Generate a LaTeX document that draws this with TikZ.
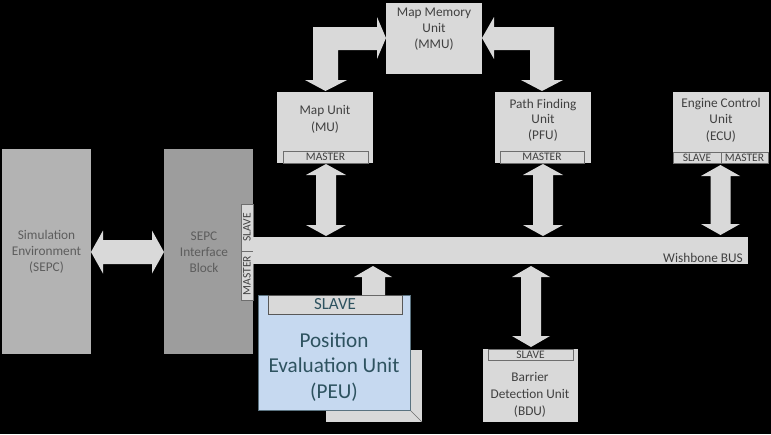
\documentclass[tikz,border=0pt]{standalone}
\usepackage{fontspec}
\setmainfont{Carlito}
\definecolor{boxgray}{HTML}{D9D9D9}
\definecolor{simgray}{HTML}{B3B3B3}
\definecolor{sepcgray}{HTML}{9D9D9D}
\definecolor{txtgray}{HTML}{404040}
\definecolor{stripline}{HTML}{6E6E6E}
\definecolor{peufill}{HTML}{C6D9F0}
\definecolor{peuline}{HTML}{5B7380}
\definecolor{peutext}{HTML}{2E5360}
\begin{document}
\begin{tikzpicture}[x=1pt,y=-1pt,
  gbox/.style={fill=boxgray,draw=none,inner sep=0pt,outer sep=0pt},
  txt/.style={font=\fontsize{13.3}{16}\selectfont,text=txtgray,align=center,inner sep=0pt},
  strip/.style={fill=boxgray,draw=stripline,line width=0.6pt,inner sep=0pt,outer sep=0pt,
    font=\fontsize{11.5}{12}\selectfont,text=txtgray},
  arr/.style={fill=boxgray,draw=none}]
\useasboundingbox (0,0) rectangle (771,434);
\fill[black] (0,0) rectangle (771,434);

% left blocks
\node[gbox,fill=simgray,minimum width=89,minimum height=205] (sim) at (46.5,251.5) {};
\node[txt,text=txtgray!85] (simt) at (46.5,252) {Simulation\\Environment\\(SEPC)};
\node[gbox,fill=sepcgray,minimum width=89,minimum height=205] (sepc) at (208.5,251.5) {};
\node[txt,text=txtgray!85] (sepct) at (204,252) {SEPC\\Interface\\Block};
\node[strip,rotate=90,minimum width=47,minimum height=12] (sepcs) at (247,227.5) {SLAVE};
\node[strip,rotate=90,minimum width=49,minimum height=12] (sepcm) at (247,275.5) {MASTER};

% bus
\node[gbox,minimum width=495,minimum height=27] (bus) at (500.5,250.5) {};
\node[txt,anchor=base east] (bust) at (743,262) {Wishbone BUS};

% MMU
\node[gbox,minimum width=96,minimum height=71] (mmu) at (434,38.5) {};
\node[txt] (mmut) at (434,29.5) {Map Memory\\Unit\\(MMU)};

% MU
\node[gbox,minimum width=96,minimum height=71] (mu) at (325,127.5) {};
\node[txt,font=\fontsize{13.3}{17}\selectfont] (mut) at (325,119.5) {Map Unit\\(MU)};
\node[strip,minimum width=85,minimum height=12] (mum) at (325.5,157) {MASTER};

% PFU
\node[gbox,minimum width=96,minimum height=71] (pfu) at (543,127.5) {};
\node[txt,font=\fontsize{13.3}{15.5}\selectfont] (pfut) at (543,120) {Path Finding\\Unit\\(PFU)};
\node[strip,minimum width=84,minimum height=12] (pfum) at (542,157) {MASTER};

% ECU
\node[gbox,minimum width=96,minimum height=71] (ecu) at (721,127.5) {};
\node[txt,font=\fontsize{13.3}{16.5}\selectfont] (ecut) at (721,120) {Engine Control\\Unit\\(ECU)};
\node[strip,minimum width=48,minimum height=11] (ecus) at (697,157.5) {SLAVE};
\node[strip,minimum width=47,minimum height=11] (ecum) at (744.5,157.5) {MASTER};

% PEU
\fill[boxgray] (326,350) rectangle (422,422);
\draw[stripline,line width=0.6pt] (410,410) -- (422,422);
\node[fill=peufill,draw=peuline,line width=0.8pt,inner sep=0pt,outer sep=0pt,
  minimum width=152,minimum height=115] (peu) at (334,352.5) {};
\node[strip,draw=stripline!80!black,minimum width=134,minimum height=19,
  font=\fontsize{17}{18}\selectfont,text=peutext] (peus) at (335,304.5) {SLAVE};
\node[txt,font=\fontsize{21.2}{25.5}\selectfont,text=peutext] (peut) at (334,367)
  {Position\\Evaluation Unit\\(PEU)};

% BDU
\node[gbox,minimum width=95,minimum height=73] (bdu) at (530.5,385.5) {};
\node[strip,minimum width=85,minimum height=11] (bdus) at (530.5,354.5) {SLAVE};
\node[txt,font=\fontsize{13.3}{17}\selectfont] (bdut) at (530,395) {Barrier\\Detection Unit\\(BDU)};

% arrows
% Sim <-> SEPC
\fill[arr] (91,252) -- (103,230.5) -- (103,240) -- (152,240) -- (152,230.5) -- (164,252)
  -- (152,273.5) -- (152,264) -- (103,264) -- (103,273.5) -- cycle;
% vertical double arrows
\newcommand\vdarr[5]{% x, ytop, ybot, shaft half, head half
  \fill[arr] (#1,#2) -- (#1+#5,#2+11) -- (#1+#4,#2+11) -- (#1+#4,#3-11) -- (#1+#5,#3-11)
    -- (#1,#3) -- (#1-#5,#3-11) -- (#1-#4,#3-11) -- (#1-#4,#2+11) -- (#1-#5,#2+11) -- cycle;}
\vdarr{326}{164}{236}{10}{20}
\vdarr{543}{164}{236}{10}{20}
\vdarr{720.5}{165}{235}{10}{19.5}
\vdarr{531}{266}{347}{10}{19}
% PEU -> bus
\fill[arr] (373,266) -- (392,277) -- (385,277) -- (385,295) -- (362,295) -- (362,277) -- (354,277) -- cycle;
% bent arrows MMU
\fill[arr] (325.5,91) -- (347,80) -- (338,80) -- (338,50) -- (377,50) -- (377,59) -- (386,38)
  -- (377,17) -- (377,27) -- (313,27) -- (313,80) -- (305,80) -- cycle;
\fill[arr] (482,38) -- (494,17) -- (494,27) -- (554,27) -- (554,80) -- (563,80) -- (542,91)
  -- (521,80) -- (530,80) -- (530,50) -- (494,50) -- (494,59) -- cycle;
\end{tikzpicture}
\end{document}
